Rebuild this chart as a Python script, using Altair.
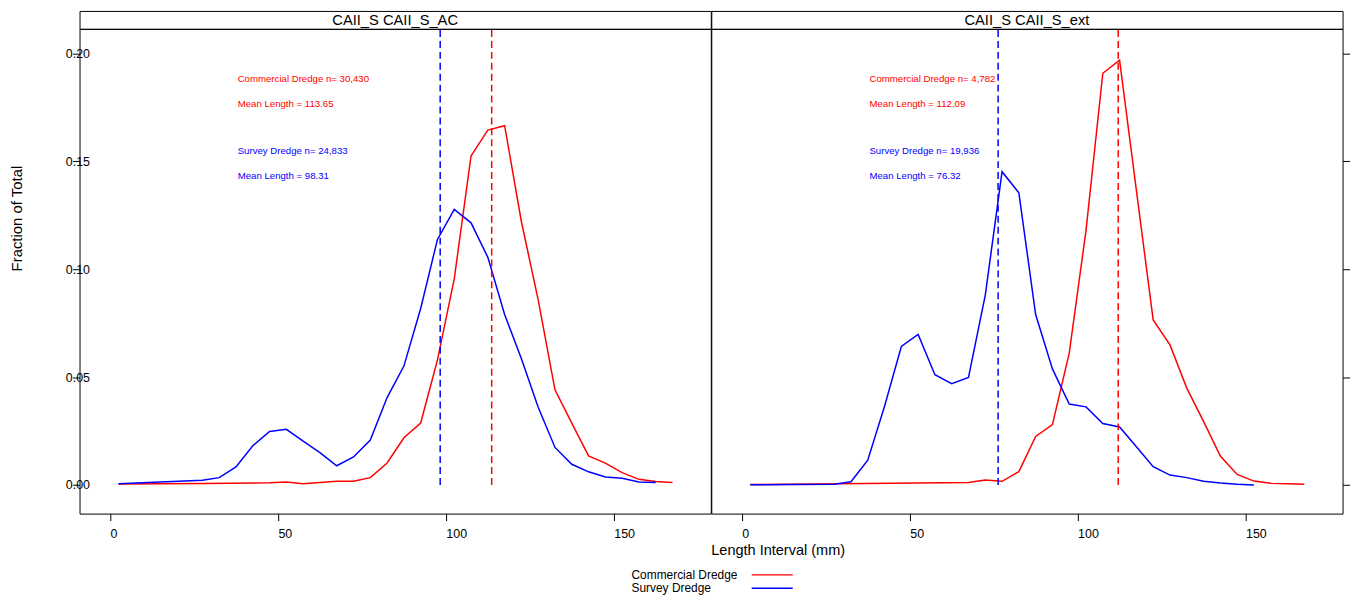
import altair as alt
import pandas as pd

FONT = "Liberation Sans"

PANELS = ["CAII_S CAII_S_AC", "CAII_S CAII_S_ext"]
GEARS = ["Commercial Dredge", "Survey Dredge"]
GEAR_COLORS = ["#FF0000", "#0000FF"]

# ---- panel 1 : CAII_S CAII_S_AC ----
ac_comm_len = [2.5, 27.5, 47.5, 52.5, 57.5, 62.5, 67.5, 72.5, 77.5, 82.5, 87.5, 92.5,
               97.5, 102.5, 107.5, 112.5, 117.5, 122.5, 127.5, 132.5, 137.5, 142.5,
               147.5, 152.5, 157.5, 162.5, 167.5]
ac_comm_frac = [0.0004, 0.0007, 0.0010, 0.0014, 0.0006, 0.0012, 0.0017, 0.0017, 0.0034,
                0.0102, 0.0219, 0.0287, 0.0580, 0.0955, 0.1525, 0.1645, 0.1665, 0.1220,
                0.0858, 0.0441, 0.0287, 0.0135, 0.0101, 0.0057, 0.0026, 0.0016, 0.0011]
ac_surv_len = [2.5, 27.5, 32.5, 37.5, 42.5, 47.5, 52.5, 57.5, 62.5, 67.5, 72.5, 77.5,
               82.5, 87.5, 92.5, 97.5, 102.5, 107.5, 112.5, 117.5, 122.5, 127.5, 132.5,
               137.5, 142.5, 147.5, 152.5, 157.5, 162.5]
ac_surv_frac = [0.0006, 0.0022, 0.0034, 0.0084, 0.0182, 0.0248, 0.0258, 0.0203, 0.0150,
                0.0089, 0.0130, 0.0208, 0.0405, 0.0551, 0.0818, 0.1138, 0.1277, 0.1215,
                0.1055, 0.0790, 0.0585, 0.0360, 0.0174, 0.0096, 0.0061, 0.0037, 0.0031,
                0.0014, 0.0011]

# ---- panel 2 : CAII_S CAII_S_ext ----
ext_comm_len = [2.5, 67.5, 72.5, 77.5, 82.5, 87.5, 92.5, 97.5, 102.5, 107.5, 112.5,
                117.5, 122.5, 127.5, 132.5, 137.5, 142.5, 147.5, 152.5, 157.5, 167.5]
ext_comm_frac = [0.0002, 0.0011, 0.0023, 0.0017, 0.0062, 0.0225, 0.0280, 0.0611, 0.1180,
                 0.1908, 0.1969, 0.1365, 0.0765, 0.0649, 0.0449, 0.0295, 0.0134, 0.0049,
                 0.0018, 0.0008, 0.0003]
ext_surv_len = [2.5, 27.5, 32.5, 37.5, 42.5, 47.5, 52.5, 57.5, 62.5, 67.5, 72.5, 77.5,
                82.5, 87.5, 92.5, 97.5, 102.5, 107.5, 112.5, 117.5, 122.5, 127.5, 132.5,
                137.5, 142.5, 147.5, 152.5]
ext_surv_frac = [0.0001, 0.0003, 0.0015, 0.0115, 0.0365, 0.0642, 0.0698, 0.0511, 0.0469,
                 0.0498, 0.0880, 0.1452, 0.1354, 0.0790, 0.0538, 0.0375, 0.0362, 0.0285,
                 0.0269, 0.0177, 0.0085, 0.0046, 0.0034, 0.0017, 0.0009, 0.0003, 0.0000]

N_COMM = ["30,430", "4,782"]
N_SURV = ["24,833", "19,936"]
MEAN_COMM = [113.65, 112.09]
MEAN_SURV = [98.31, 76.32]

ANN_X = 38
ANN_Y = [0.1882, 0.1767, 0.1546, 0.1431]

X_DOMAIN = [-9.1, 178.9]
Y_DOMAIN = [-0.01326, 0.2114]
X_TICKS = [0, 50, 100, 150]
Y_TICKS = [0.0, 0.05, 0.10, 0.15, 0.20]

PW = 635.5
PH = 488
SH = 18

series = [
    (PANELS[0], GEARS[0], ac_comm_len, ac_comm_frac),
    (PANELS[0], GEARS[1], ac_surv_len, ac_surv_frac),
    (PANELS[1], GEARS[0], ext_comm_len, ext_comm_frac),
    (PANELS[1], GEARS[1], ext_surv_len, ext_surv_frac),
]
rows = []
for panel, gear, xs, ys in series:
    for xv, yv in zip(xs, ys):
        rows.append({"panel": panel, "gear": gear, "len": xv, "frac": yv})
lines_df = pd.DataFrame(rows)

rule_rows, ann_rows = [], []
for i, p in enumerate(PANELS):
    rule_rows.append({"panel": p, "gear": GEARS[0], "mean": MEAN_COMM[i], "y0": 0.0, "top": Y_DOMAIN[1]})
    rule_rows.append({"panel": p, "gear": GEARS[1], "mean": MEAN_SURV[i], "y0": 0.0, "top": Y_DOMAIN[1]})
    texts = [
        (f"Commercial Dredge n= {N_COMM[i]}", GEARS[0]),
        (f"Mean Length = {MEAN_COMM[i]:.2f}", GEARS[0]),
        (f"Survey Dredge n= {N_SURV[i]}", GEARS[1]),
        (f"Mean Length = {MEAN_SURV[i]:.2f}", GEARS[1]),
    ]
    for (t, g), yv in zip(texts, ANN_Y):
        ann_rows.append({"panel": p, "gear": g, "label": t, "ax": ANN_X, "ay": yv})
rules_df = pd.DataFrame(rule_rows)
ann_df = pd.DataFrame(ann_rows)
legend_df = pd.DataFrame({"gear": GEARS})

xscale = alt.Scale(domain=X_DOMAIN, nice=False, zero=False)
yscale = alt.Scale(domain=Y_DOMAIN, nice=False, zero=False)
cscale = alt.Scale(domain=GEARS, range=GEAR_COLORS)

COMMON_AXIS = dict(domain=False, grid=False, tickColor="black", tickWidth=1,
                   labelColor="black", labelFont=FONT, labelFontSize=12.5,
                   labelOverlap=False, labelFlush=False)


def make_panel(idx):
    p = PANELS[idx]
    xaxis_kw = dict(COMMON_AXIS, values=X_TICKS, labelAlign="left", labelBaseline="top",
                    labelPadding=7, tickSize=7)
    if idx == 0:
        xaxis = alt.Axis(**xaxis_kw, title="Length Interval (mm)", titleX=PW, titleY=36.7,
                         titleAlign="left", titleBaseline="middle", titleFontSize=14.6,
                         titleFont=FONT, titleFontWeight="normal", titleColor="black")
        yaxis = alt.Axis(**COMMON_AXIS, values=Y_TICKS, format=".2f", orient="left",
                         labelAlign="left", labelBaseline="middle", labelPadding=7.3,
                         tickSize=7, title="Fraction of Total", titleX=-63.6, titleY=243.7,
                         titleAngle=270, titleAlign="left", titleBaseline="middle",
                         titleFontSize=15, titleFont=FONT, titleFontWeight="normal",
                         titleColor="black")
    else:
        xaxis = alt.Axis(**xaxis_kw, title=None)
        yaxis = alt.Axis(**COMMON_AXIS, values=Y_TICKS, orient="right", labels=False,
                         tickSize=7, title=None)

    base_lines = alt.Chart(lines_df[lines_df["panel"] == p]).mark_line(strokeWidth=1.5).encode(
        x=alt.X("len:Q", scale=xscale, axis=xaxis),
        y=alt.Y("frac:Q", scale=yscale, axis=yaxis),
        color=alt.Color("gear:N", scale=cscale, legend=None),
    )
    rules = alt.Chart(rules_df[rules_df["panel"] == p]).mark_rule(
        strokeWidth=1.5, strokeDash=[7, 4]
    ).encode(
        x=alt.X("mean:Q", scale=xscale),
        y=alt.Y("y0:Q", scale=yscale),
        y2="top:Q",
        color=alt.Color("gear:N", scale=cscale, legend=None),
    )
    texts = alt.Chart(ann_df[ann_df["panel"] == p]).mark_text(
        align="left", baseline="middle", font=FONT, fontSize=9.7
    ).encode(
        x=alt.X("ax:Q", scale=xscale),
        y=alt.Y("ay:Q", scale=yscale),
        text="label:N",
        color=alt.Color("gear:N", scale=cscale, legend=None),
    )
    return alt.layer(base_lines, rules, texts).properties(width=PW, height=PH)


def make_strip(idx):
    d = pd.DataFrame({"panel": [PANELS[idx]], "cx": [0.5], "cy": [0.5]})
    return alt.Chart(d).mark_text(
        font=FONT, fontSize=14.8, color="black", dy=1
    ).encode(
        x=alt.X("cx:Q", scale=alt.Scale(domain=[0, 1]), axis=None),
        y=alt.Y("cy:Q", scale=alt.Scale(domain=[0, 1]), axis=None),
        text="panel:N",
    ).properties(width=PW, height=SH)


# custom legend: labels on the left, line keys on the right
leg_y = alt.Y("gear:N", scale=alt.Scale(domain=GEARS, type="point", range=[61.7, 75.2],
                                        padding=0), axis=None)
leg_text = alt.Chart(legend_df).mark_text(
    align="left", baseline="middle", font=FONT, fontSize=12, color="black"
).encode(y=leg_y, x=alt.value(555.7), text="gear:N")
leg_key = alt.Chart(legend_df).mark_rule(strokeWidth=1.5).encode(
    y=leg_y, x=alt.value(676.7), x2=alt.value(718),
    color=alt.Color("gear:N", scale=cscale, legend=None),
)
legend_chart = alt.layer(leg_text, leg_key).properties(
    width=PW, height=75.2, view=alt.ViewBackground(stroke="transparent")
)

chart = alt.ConcatChart(
    concat=[make_strip(0), make_strip(1), make_panel(0), make_panel(1), legend_chart],
    columns=2,
    spacing=0,
    bounds="flush",
    padding={"left": 0, "top": 0, "right": 0, "bottom": 0},
).configure_view(
    stroke="black", strokeWidth=1
)

chart.save("out.html", embed_options={"renderer": "svg", "actions": False})
